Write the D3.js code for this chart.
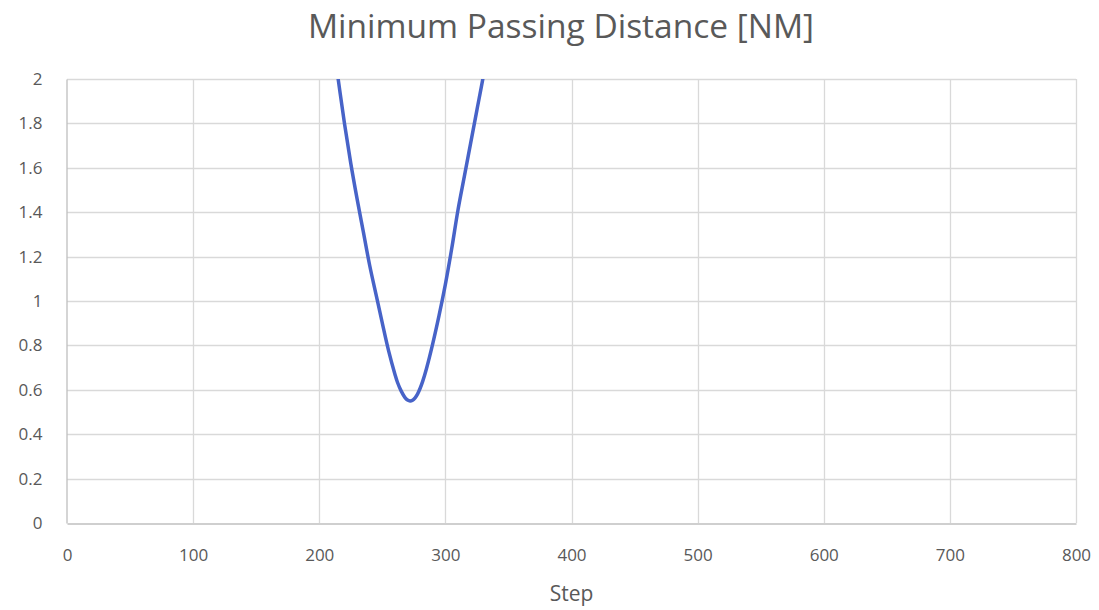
<!DOCTYPE html>
<html>
<head>
<meta charset="utf-8">
<script src="https://cdn.jsdelivr.net/npm/d3@7"></script>
<style>
  html, body { margin: 0; padding: 0; background: #fff; }
  svg { display: block; font-family: "Open Sans", "Noto Sans", sans-serif; }
</style>
</head>
<body>
<svg id="chart" width="1099" height="610"></svg>
<script>
// Minimum passing distance per simulation step
const steps = [205, 210, 215, 220, 225, 230, 235, 240, 245, 250, 255, 260, 262, 265, 268, 270, 272,
               274, 276, 278, 280, 282, 285, 290, 295, 300, 305, 310, 315, 320, 325, 330, 335, 340];
const distances = [2.39, 2.20, 2.00, 1.80, 1.62, 1.46, 1.31, 1.16, 1.03, 0.90, 0.775, 0.67, 0.634, 0.594, 0.565, 0.554, 0.55,
                   0.553, 0.564, 0.582, 0.607, 0.638, 0.695, 0.808, 0.935, 1.075, 1.235, 1.41, 1.56, 1.71, 1.86, 2.01, 2.18, 2.34];

const xTicks = [0, 100, 200, 300, 400, 500, 600, 700, 800];
const yTicks = [0, 0.2, 0.4, 0.6, 0.8, 1, 1.2, 1.4, 1.6, 1.8, 2];

const titleText = "Minimum Passing Distance [NM]";
const xTitle = "Step";

const svg = d3.select("#chart");
const margin = { left: 67, right: 1099 - 1076, top: 79, bottom: 610 - 523 };
const W = 1099, H = 610;

const x = d3.scaleLinear().domain([0, 800]).range([margin.left, W - margin.right]);
const y = d3.scaleLinear().domain([0, 2]).range([H - margin.bottom, margin.top]);

const textColor = "#595959";

// grid
const grid = svg.append("g");
grid.selectAll("line.h").data(yTicks.filter(d => d > 0)).join("line")
  .attr("x1", x(0)).attr("x2", x(800))
  .attr("y1", d => Math.round(y(d)) + 0.5).attr("y2", d => Math.round(y(d)) + 0.5)
  .attr("stroke", "#d9d9d9").attr("stroke-width", 1.3);
grid.selectAll("line.v").data(xTicks.filter(d => d > 0)).join("line")
  .attr("y1", y(0)).attr("y2", y(2))
  .attr("x1", d => Math.round(x(d)) + 0.5).attr("x2", d => Math.round(x(d)) + 0.5)
  .attr("stroke", "#d9d9d9").attr("stroke-width", 1.3);

// axes
const xAxis = svg.append("g")
  .attr("transform", `translate(0,${Math.round(y(0)) + 0.5})`)
  .call(d3.axisBottom(x).tickValues(xTicks).tickSize(0).tickPadding(25).tickFormat(d3.format("d")));
xAxis.select(".domain").attr("stroke", "#bfbfbf").attr("stroke-width", 1.3);
xAxis.selectAll("text").attr("fill", textColor).attr("font-size", 17)
  .attr("font-family", "'Open Sans', sans-serif");

const yAxis = svg.append("g")
  .attr("transform", `translate(${Math.round(x(0)) - 0.5},0)`)
  .call(d3.axisLeft(y).tickValues(yTicks).tickSize(0).tickPadding(24).tickFormat(d => String(d)));
yAxis.select(".domain").attr("stroke", "#bfbfbf").attr("stroke-width", 1.3);
yAxis.selectAll("text").attr("fill", textColor).attr("font-size", 17)
  .attr("font-family", "'Open Sans', sans-serif");

// clip the series to the plotting area
svg.append("clipPath").attr("id", "plot-clip")
  .append("rect")
  .attr("x", x(0)).attr("y", y(2))
  .attr("width", x(800) - x(0)).attr("height", y(0) - y(2));

const data = steps.map((s, i) => ({ s, d: distances[i] }));
const line = d3.line().x(p => x(p.s)).y(p => y(p.d)).curve(d3.curveCatmullRom.alpha(0.5));

svg.append("path")
  .datum(data)
  .attr("clip-path", "url(#plot-clip)")
  .attr("fill", "none")
  .attr("stroke", "#4763c8")
  .attr("stroke-width", 3.5)
  .attr("stroke-linejoin", "round")
  .attr("stroke-linecap", "round")
  .attr("d", line);

// titles
svg.append("text")
  .attr("x", 561).attr("y", 38)
  .attr("text-anchor", "middle")
  .attr("fill", textColor)
  .attr("font-size", 33.5)
  .text(titleText);

svg.append("text")
  .attr("x", (x(0) + x(800)) / 2).attr("y", 601)
  .attr("text-anchor", "middle")
  .attr("fill", textColor)
  .attr("font-size", 21)
  .text(xTitle);
</script>
</body>
</html>
